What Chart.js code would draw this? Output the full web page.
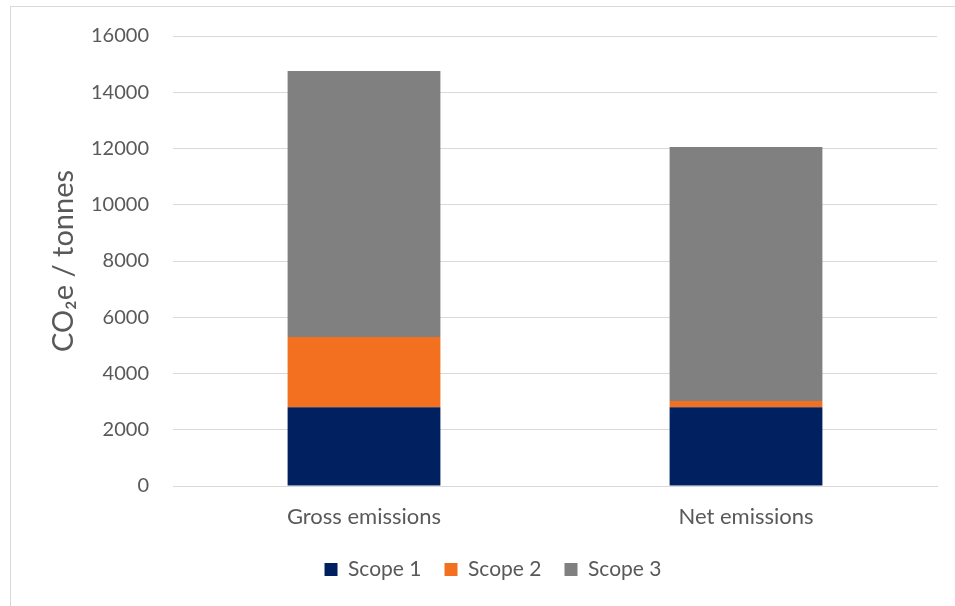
<!DOCTYPE html>
<html>
<head>
<meta charset="utf-8">
<title>Emissions by scope</title>
<script src="https://cdn.jsdelivr.net/npm/chart.js"></script>
<style>
    html, body {
        margin: 0;
        padding: 0;
        background: #ffffff;
        overflow: hidden;
    }
    #frame {
        position: absolute;
        left: 10px;
        top: 6px;
        width: 1000px;
        height: 700px;
        border: 1px solid #d9d9d9;
    }
    #chart {
        position: absolute;
        left: 0;
        top: 0;
    }
</style>
</head>
<body>
<div id="frame"></div>
<canvas id="chart" width="955" height="606"></canvas>
<script>
// Data
const categories = ['Gross emissions', 'Net emissions'];
const scope1 = [2800, 2800];
const scope2 = [2500, 220];
const scope3 = [9460, 9030];
const seriesNames = ['Scope 1', 'Scope 2', 'Scope 3'];
const yTicks = [0, 2000, 4000, 6000, 8000, 10000, 12000, 14000, 16000];

const colors = {
    scope1: '#002060',
    scope2: '#F37021',
    scope3: '#808080',
    grid: '#d9d9d9',
    text: '#595959'
};

const font = 'Lato';

const ctx = document.getElementById('chart').getContext('2d');
new Chart(ctx, {
    type: 'bar',
    data: {
        labels: categories,
        datasets: [{
            label: seriesNames[0],
            data: scope1,
            backgroundColor: colors.scope1
        }, {
            label: seriesNames[1],
            data: scope2,
            backgroundColor: colors.scope2
        }, {
            label: seriesNames[2],
            data: scope3,
            backgroundColor: colors.scope3
        }]
    },
    options: {
        responsive: false,
        devicePixelRatio: 1,
        animation: false,
        categoryPercentage: 1,
        barPercentage: 0.4,
        layout: {
            padding: { left: 49, right: 18, top: 36, bottom: 16 }
        },
        plugins: {
            legend: {
                position: 'bottom',
                labels: {
                    boxWidth: 13,
                    boxHeight: 13,
                    padding: 23,
                    color: colors.text,
                    font: { family: font, size: 21 }
                }
            },
            tooltip: { enabled: false }
        },
        scales: {
            x: {
                stacked: true,
                grid: { display: false, drawTicks: false },
                border: { color: colors.grid, width: 1 },
                ticks: {
                    color: colors.text,
                    padding: 18,
                    font: { family: font, size: 22 }
                },
                afterFit: scale => { scale.height = 50; }
            },
            y: {
                stacked: true,
                min: 0,
                max: yTicks[yTicks.length - 1],
                afterBuildTicks: scale => {
                    scale.ticks = yTicks.map(v => ({ value: v }));
                },
                grid: { color: colors.grid, lineWidth: 1, drawTicks: false },
                border: { display: false },
                ticks: {
                    color: colors.text,
                    padding: 24,
                    font: { family: font, size: 20 },
                    callback: value => String(value)
                },
                title: {
                    display: true,
                    text: 'CO\u2082e / tonnes',
                    color: colors.text,
                    padding: 0,
                    font: { family: font, size: 29, lineHeight: 1.0 }
                },
                afterFit: scale => { scale.width = 124; }
            }
        }
    }
});
</script>
</body>
</html>
